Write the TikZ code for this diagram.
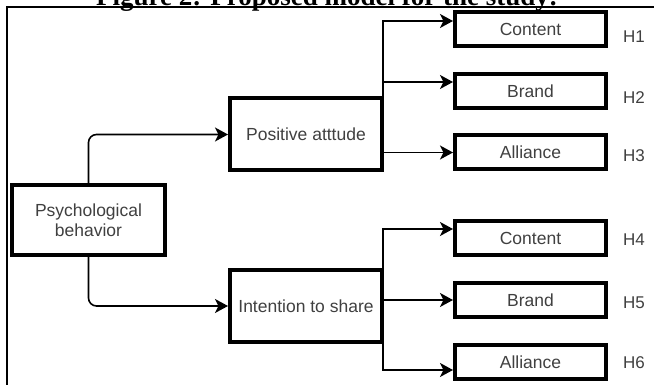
\documentclass[tikz,border=0pt]{standalone}
\usepackage{fontspec}
\setmainfont{Liberation Sans}
\newfontfamily\titlefont{Liberation Serif}
\usetikzlibrary{arrows.meta,shadows}
\definecolor{txt}{HTML}{404040}
\begin{document}
\begin{tikzpicture}[x=1pt,y=1pt,
  box/.style={draw=black, line width=4pt, fill=white, inner sep=0pt, text=txt,
    font=\fontsize{17.5}{20}\selectfont, align=center,
    drop shadow={shadow xshift=2pt, shadow yshift=-2pt, opacity=0.3, fill=black}},
  midbox/.style={box, minimum width=152pt, minimum height=72pt},
  leafbox/.style={box, minimum width=151pt, minimum height=34pt},
  link/.style={draw=black, line width=1.6pt, -{Stealth[length=13pt,width=14pt,inset=3.5pt]}},
  hlab/.style={text=txt, font=\fontsize{17}{20}\selectfont, inner sep=0pt}]
\useasboundingbox (0,0) rectangle (654,385);
\node[anchor=base, font=\titlefont\bfseries\fontsize{27}{31}\selectfont, inner sep=0pt] (title) at (327,379.5) {Figure 2: Proposed model for the study:};
\coordinate (ftl) at (7,378);
\coordinate (ftr) at (654,378);
\coordinate (fbl) at (7,0);
\draw[line width=1.5pt] (fbl) -- (ftl) -- (ftr);

\node[box, minimum width=153pt, minimum height=70pt] (psy) at (88.5,165) {Psychological\\behavior};
\node[midbox] (pos) at (306,250.5) {Positive atttude};
\node[midbox] (int) at (306,79) {Intention to share};

\node[leafbox] (c1) at (530.5,355.5) {Content};
\node[leafbox] (b1) at (530.5,294) {Brand};
\node[leafbox] (a1) at (530.5,232.5) {Alliance};
\node[leafbox] (c2) at (530.5,146.5) {Content};
\node[leafbox] (b2) at (530.5,85) {Brand};
\node[leafbox] (a2) at (530.5,22.5) {Alliance};

\node[hlab] (h1) at (634,348) {H1};
\node[hlab] (h2) at (634,287) {H2};
\node[hlab] (h3) at (634,229) {H3};
\node[hlab] (h4) at (634,145) {H4};
\node[hlab] (h5) at (634,82) {H5};
\node[hlab] (h6) at (634,22) {H6};

\draw[link, rounded corners=8pt] (psy.north) |- (pos.west);
\draw[link, rounded corners=8pt] (psy.south) |- (int.west);

\coordinate (pt) at ([xshift=-1pt]pos.north east);
\coordinate (c1t) at ([yshift=8.5pt]c1.west);
\coordinate (b1t) at ([yshift=9pt]b1.west);
\draw[link] (pt) |- (c1t);
\draw[link] (pt |- b1t) -- (b1t);
\draw[link] (pos.east |- a1.west) -- (a1.west);

\coordinate (it) at ([xshift=-1pt]int.north east);
\coordinate (ib) at ([xshift=-1pt]int.south east);
\coordinate (c2t) at ([yshift=9.5pt]c2.west);
\coordinate (a2t) at ([yshift=-7.5pt]a2.west);
\draw[link] (it) |- (c2t);
\draw[link] (int.east |- b2.west) -- (b2.west);
\draw[link] (ib) |- (a2t);
\end{tikzpicture}
\end{document}
